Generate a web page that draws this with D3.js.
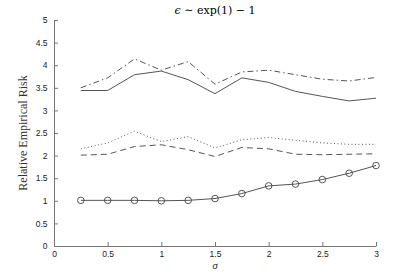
<!DOCTYPE html>
<html>
<head>
<meta charset="utf-8">
<script src="https://cdn.jsdelivr.net/npm/d3@7"></script>
<style>
  body { margin: 0; background: #fff; }
  svg { display: block; }
  .tick text { font-family: "Liberation Sans", Arial, sans-serif; font-size: 8.5px; fill: #222; }
  .domain, .tick line { stroke: #777; }
</style>
</head>
<body>
<div id="chart"></div>
<script>
// sigma values on x axis
const sigma = [0.25, 0.5, 0.75, 1, 1.25, 1.5, 1.75, 2, 2.25, 2.5, 2.75, 3];

const solidTop = [3.44, 3.44, 3.79, 3.87, 3.68, 3.37, 3.72, 3.62, 3.42, 3.31, 3.21, 3.27];
const dashDot = [3.5, 3.72, 4.14, 3.89, 4.08, 3.58, 3.85, 3.89, 3.79, 3.69, 3.65, 3.73];
const dotted = [2.15, 2.28, 2.54, 2.31, 2.42, 2.17, 2.35, 2.4, 2.34, 2.28, 2.25, 2.25];
const dashed = [2.01, 2.03, 2.2, 2.24, 2.13, 1.98, 2.18, 2.15, 2.03, 2.02, 2.03, 2.04];
const circles = [1.01, 1.01, 1.01, 1.0, 1.01, 1.05, 1.16, 1.33, 1.37, 1.47, 1.61, 1.78];

const xTicks = [0, 0.5, 1, 1.5, 2, 2.5, 3];
const yTicks = d3.range(0, 5.01, 0.5);

let width = 415, height = 277;
let margin = {left: 54, right: 39, top: 20, bottom: 31};

let svg = d3.select('#chart').append('svg').attr('width', width).attr('height', height);

let x = d3.scaleLinear().domain([0, 3]).range([margin.left, width - margin.right]);
let y = d3.scaleLinear().domain([0, 5]).range([height - margin.bottom, margin.top]);

// axes, ticks pointing inward like matlab
svg.append('g')
  .attr('transform', 'translate(0,' + (height - margin.bottom) + ')')
  .call(d3.axisBottom(x).tickValues(xTicks).tickFormat(d3.format('')).tickSizeInner(-4).tickSizeOuter(0).tickPadding(5));

svg.append('g')
  .attr('transform', 'translate(' + margin.left + ',0)')
  .call(d3.axisLeft(y).tickValues(yTicks).tickFormat(d3.format('')).tickSizeInner(-4).tickSizeOuter(0).tickPadding(6.5));

let line = d3.line().x((d, i) => x(sigma[i])).y(d => y(d));

let series = [
  {vals: solidTop, dash: null},
  {vals: dashDot, dash: '6,3,1.5,3'},
  {vals: dotted, dash: '1,2.5'},
  {vals: dashed, dash: '6,4'},
  {vals: circles, dash: null}
];

series.forEach(s => {
  svg.append('path')
    .datum(s.vals)
    .attr('d', line)
    .attr('fill', 'none')
    .attr('stroke', '#555')
    .attr('stroke-width', 1)
    .attr('stroke-dasharray', s.dash);
});

svg.selectAll('circle.marker').data(circles).enter()
  .append('circle')
  .attr('class', 'marker')
  .attr('cx', (d, i) => x(sigma[i]))
  .attr('cy', d => y(d))
  .attr('r', 3.3)
  .attr('fill', 'none')
  .attr('stroke', '#444')
  .attr('stroke-width', 0.9);

// title
svg.append('text')
  .attr('x', (margin.left + width - margin.right) / 2)
  .attr('y', 14)
  .attr('text-anchor', 'middle')
  .attr('font-family', '"DejaVu Serif", "Liberation Serif", serif')
  .attr('font-size', '11px')
  .attr('fill', '#000')
  .html('<tspan font-style="italic">ϵ</tspan> ∼ exp(1) − 1');

// x label
svg.append('text')
  .attr('x', (margin.left + width - margin.right) / 2)
  .attr('y', 269)
  .attr('text-anchor', 'middle')
  .attr('font-family', '"Liberation Serif", serif')
  .attr('font-style', 'italic')
  .attr('font-size', '10.5px')
  .attr('fill', '#222')
  .text('σ');

// y label
svg.append('text')
  .attr('transform', 'translate(27,' + (margin.top + height - margin.bottom) / 2 + ') rotate(-90)')
  .attr('text-anchor', 'middle')
  .attr('font-family', '"Liberation Serif", serif')
  .attr('font-size', '12px')
  .attr('fill', '#333')
  .text('Relative Empirical Risk');
</script>
</body>
</html>
